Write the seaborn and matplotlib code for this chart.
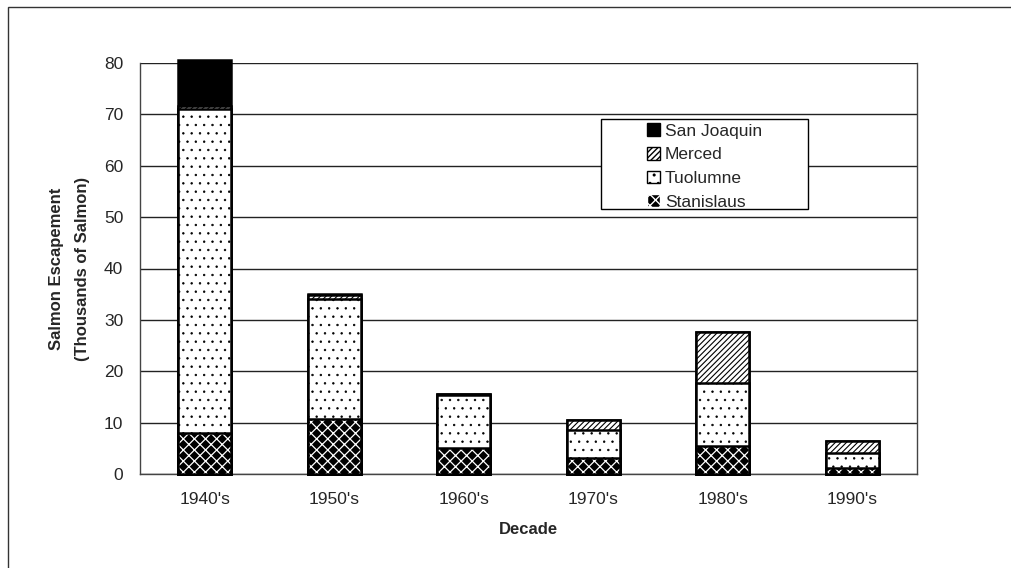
import numpy as np
import pandas as pd
import seaborn as sns
import matplotlib.pyplot as plt
from matplotlib.patches import Patch, Rectangle

decades = ["1940's", "1950's", "1960's", "1970's", "1980's", "1990's"]
stanislaus = [8.0, 10.7, 5.0, 3.1, 5.5, 1.2]
tuolumne = [63.0, 23.3, 10.4, 5.4, 12.2, 2.9]
merced = [0.7, 0.9, 0.1, 2.0, 9.9, 2.4]
san_joaquin = [8.9, 0.1, 0.0, 0.0, 0.0, 0.0]

series = ["Stanislaus", "Tuolumne", "Merced", "San Joaquin"]
hatches = {"Stanislaus": "xxx", "Tuolumne": "..", "Merced": "//////", "San Joaquin": None}
faces = {"Stanislaus": "black", "Tuolumne": "white", "Merced": "white", "San Joaquin": "black"}
hatch_lw = {"Stanislaus": 0.9, "Tuolumne": 0.5, "Merced": 0.8, "San Joaquin": 1.0}

sns.set_style("white")
plt.rcParams["font.family"] = ["Liberation Sans", "DejaVu Sans"]
plt.rcParams["hatch.linewidth"] = 1.0

df = pd.DataFrame({"Decade": decades, "Stanislaus": stanislaus, "Tuolumne": tuolumne,
                   "Merced": merced, "San Joaquin": san_joaquin})
cum = df[series].cumsum(axis=1)

fig = plt.figure(figsize=(10.11, 5.68), dpi=100)
ax = fig.add_axes([140 / 1011, 1 - 474 / 568, (917 - 140) / 1011, (474 - 63) / 568])


def style_bars(container, face, edge, hatch, hlw, lw):
    for bar in container:
        bar.set_facecolor(face)
        bar.set_edgecolor(edge)
        bar.set_linewidth(lw)
        bar.set_clip_on(False)
        if hatch:
            bar.set_hatch(hatch)
            if hasattr(bar, "set_hatch_linewidth"):
                bar.set_hatch_linewidth(hlw)


# draw cumulative totals from the top layer down so lower layers sit on top
for name in reversed(series):
    sns.barplot(x=df["Decade"], y=cum[name], color=faces[name], width=0.41,
                edgecolor="black", linewidth=1.8, ax=ax, zorder=3)
    if name == "Stanislaus":
        # hatch colour follows the edge colour: white lines on black fill
        style_bars(ax.containers[-1], "black", "white", hatches[name], hatch_lw[name], 0)
        sns.barplot(x=df["Decade"], y=cum[name], width=0.41, fill=False,
                    edgecolor="black", linewidth=1.8, ax=ax, zorder=4)
        for bar in ax.containers[-1]:
            bar.set_clip_on(False)
    else:
        style_bars(ax.containers[-1], faces[name], "black", hatches[name], hatch_lw[name], 1.8)

ax.set_xlim(-0.5, 5.5)
ax.set_ylim(0, 80)
ax.set_yticks(range(0, 81, 10))
ax.yaxis.grid(True, color="#222222", linewidth=1.0, zorder=0)
ax.set_axisbelow(True)
for s in ax.spines.values():
    s.set_visible(True)
    s.set_color("#444444")
    s.set_linewidth(1.0)
ax.spines["top"].set_visible(False)

ax.set_xticks(np.arange(-0.5, 6, 1), minor=True)
ax.tick_params(axis="x", which="major", length=0, pad=13, labelsize=12.5)
ax.tick_params(axis="x", which="minor", length=5, width=1, color="#444444", direction="out")
ax.tick_params(axis="y", length=5, width=1, color="#444444", direction="out", pad=7, labelsize=12.5)

ax.set_xlabel("Decade", fontsize=12, fontweight="bold", labelpad=11)
ax.set_ylabel("Salmon Escapement\n(Thousands of Salmon)", fontsize=12,
              fontweight="bold", labelpad=10, linespacing=1.95)

handles = []
for n in reversed(series):
    if n == "Stanislaus":
        handles.append(Patch(facecolor="black", edgecolor="white", hatch="xxx", label=n))
    else:
        handles.append(Patch(facecolor=faces[n], edgecolor="black", hatch=hatches[n], label=n))
leg = fig.legend(handles=handles, loc="upper left",
                 bbox_to_anchor=(644 / 1011, 1 - 120 / 568), fontsize=12.5,
                 frameon=False, handlelength=0.75, handleheight=0.75,
                 handletextpad=0.25, labelspacing=0.47, borderpad=0.2,
                 borderaxespad=0)

fig.add_artist(Rectangle((601 / 1011, 1 - 209 / 568), 207 / 1011, 90 / 568,
                         transform=fig.transFigure, fill=True, facecolor="white",
                         edgecolor="black", linewidth=1.0, zorder=1))
leg.set_zorder(5)

fig.add_artist(Rectangle((8 / 1011, -0.1), 1.2, 1.1 - 7 / 568, transform=fig.transFigure,
                         fill=False, edgecolor="#333333", linewidth=1.0))

fig.savefig("out.png", dpi=100)
